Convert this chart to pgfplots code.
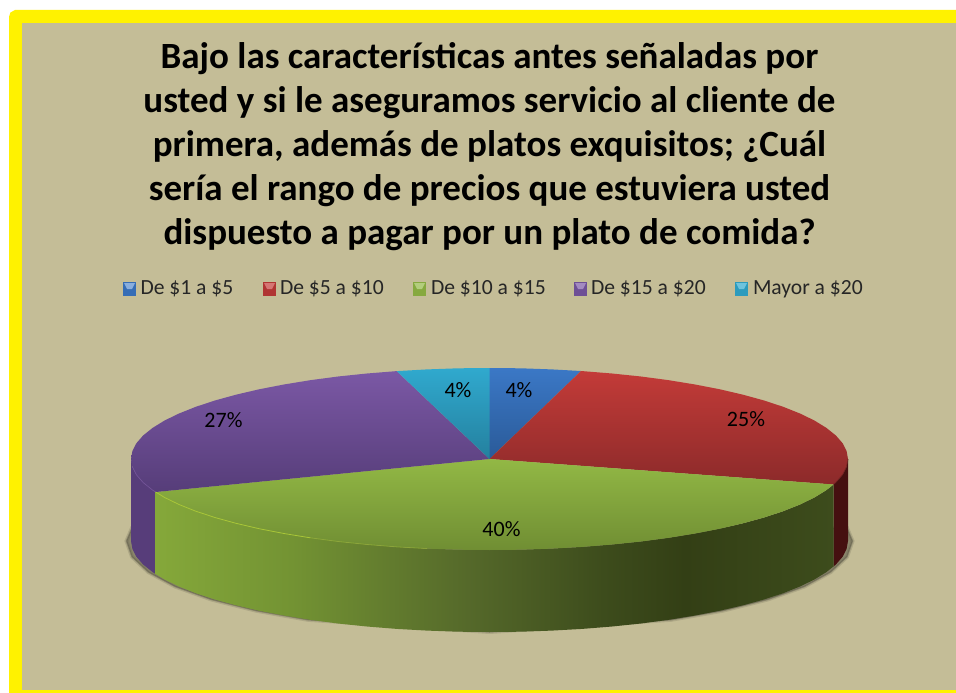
\documentclass[border=0pt]{standalone}
\usepackage{fontspec}
\setmainfont{Carlito}
\usepackage{pgfplots}
\pgfplotsset{compat=1.18}

\definecolor{fondo}{HTML}{C4BD97}
\definecolor{azulA}{HTML}{3B78C6}
\definecolor{azulB}{HTML}{2A5A98}
\definecolor{rojoA}{HTML}{C33B38}
\definecolor{rojoB}{HTML}{8C2A2A}
\definecolor{verdeA}{HTML}{92B845}
\definecolor{verdeB}{HTML}{708E33}
\definecolor{moradoA}{HTML}{7B58A5}
\definecolor{moradoB}{HTML}{563D79}
\definecolor{cianA}{HTML}{30A9CE}
\definecolor{cianB}{HTML}{24809E}
\definecolor{moradoLado}{HTML}{573D7A}
\definecolor{rojoLado}{HTML}{451010}
\definecolor{textoLey}{HTML}{262626}
\definecolor{vl1}{HTML}{85A83A}
\definecolor{vl2}{HTML}{739333}
\definecolor{vl3}{HTML}{55692A}
\definecolor{vl4}{HTML}{3D4C1C}
\definecolor{vl5}{HTML}{333F15}

% front wall of the 40% slice, light on the left and dark to the right
\pgfdeclarehorizontalshading{verdelado}{100bp}{color(0bp)=(vl1); color(25bp)=(vl1); color(35bp)=(vl2); color(48bp)=(vl3); color(58bp)=(vl4); color(64bp)=(vl5); color(75bp)=(vl4); color(100bp)=(vl4)}

\begin{document}
\begin{tikzpicture}
\begin{axis}[
    scale only axis,
    width=956pt,
    height=693pt,
    xmin=0, xmax=956,
    ymin=0, ymax=693,
    y dir=reverse,
    hide axis,
    clip=true,
]
% page and frame
\addplot[draw=none,fill=white] coordinates {(0,0) (956,0) (956,693) (0,693)} --cycle;
\addplot[draw=none,fill=yellow] coordinates {(9,693) (9,17) (10.5,12.5) (15,10) (956,10) (956,693)} --cycle;
\addplot[draw=none,fill=fondo] coordinates {(22,23) (956,23) (956,690) (22,690)} --cycle;

% shadow under the pie
\addplot[draw=black!55!fondo,fill=black!55!fondo,line width=4pt,opacity=0.2] coordinates {
    (132,528) (126.5,541) (132,556.8) (148.4,572.1) (175.1,586.5) (211.4,599.5) (256.2,610.7) (308,619.8)
    (489.5,632) (671,619.8) (722.8,610.7) (767.6,599.5) (804.4,586.5) (830.6,572.1) (847,556.8) (852.5,541) (847,528)
} --cycle;
\addplot[draw=black!55!fondo,fill=black!55!fondo,line width=1.5pt,opacity=0.4] coordinates {
    (132,528) (126.5,541) (132,556.8) (148.4,572.1) (175.1,586.5) (211.4,599.5) (256.2,610.7) (308,619.8)
    (489.5,632) (671,619.8) (722.8,610.7) (767.6,599.5) (804.4,586.5) (830.6,572.1) (847,556.8) (852.5,541) (847,528)
} --cycle;

% side walls
\addplot[draw=none,fill=moradoLado] coordinates {
    (131,459) (132.4,466.9) (136.4,474.8) (143.2,482.6) (152.6,490.1) (155.7,492)
    (155.7,574) (152.6,572.1) (143.2,564.6) (136.4,556.8) (132.4,548.9) (131,541)
} --cycle;
\addplot[draw=none,fill=rojoLado] coordinates {
    (848,459) (846.6,466.9) (842.6,474.8) (835.8,482.6) (833.5,484.5)
    (833.5,566.5) (835.8,564.6) (842.6,556.8) (846.6,548.9) (848,541)
} --cycle;
\addplot[draw=none,shade,shading=verdelado] coordinates {
    (155.7,492) (164.6,497.5) (179,504.5) (195.8,511.2) (214.9,517.5) (236,523.3) (259.1,528.7) (283.9,533.5)
    (310.2,537.8) (338,541.5) (366.9,544.5) (396.7,546.9) (427.2,548.6) (458.3,549.7) (489.5,550)
    (520.7,549.7) (551.8,548.6) (582.3,546.9) (612.1,544.5) (641,541.5) (668.8,537.8) (695.1,533.5)
    (719.9,528.7) (743,523.3) (764.1,517.5) (783.2,511.2) (800,504.5) (814.4,497.5) (826.4,490.1) (833.5,484.5)
    (833.5,566.5) (826.4,572.1) (814.4,579.5) (800,586.5) (783.2,593.2) (764.1,599.5) (743,605.3) (719.9,610.7)
    (695.1,615.5) (668.8,619.8) (641,623.5) (612.1,626.5) (582.3,628.9) (551.8,630.6) (520.7,631.7) (489.5,632)
    (458.3,631.7) (427.2,630.6) (396.7,628.9) (366.9,626.5) (338,623.5) (310.2,619.8) (283.9,615.5) (259.1,610.7)
    (236,605.3) (214.9,599.5) (195.8,593.2) (179,586.5) (164.6,579.5) (155.7,574)
} --cycle;

% top faces: De $1 a $5 4, De $5 a $10 25, De $10 a $15 40, De $15 a $20 27, Mayor a $20 4
\addplot[draw=none,top color=azulA,bottom color=azulB] coordinates {
    (489.5,459) (489.5,368) (520.7,368.3) (551.8,369.4) (581,371)
} --cycle;
\addplot[draw=none,top color=rojoA,bottom color=rojoB] coordinates {
    (489.5,459) (581,371) (612.1,373.5) (641,376.5) (668.8,380.2) (695.1,384.5) (719.9,389.3) (743,394.7)
    (764.1,400.5) (783.2,406.8) (800,413.5) (814.4,420.5) (826.4,427.9) (835.8,435.4) (842.6,443.2) (846.6,451.1)
    (848,459) (846.6,466.9) (842.6,474.8) (835.8,482.6) (833.5,484.5)
} --cycle;
\addplot[draw=none,top color=verdeA,bottom color=verdeB] coordinates {
    (489.5,459) (833.5,484.5) (826.4,490.1) (814.4,497.5) (800,504.5) (783.2,511.2) (764.1,517.5) (743,523.3)
    (719.9,528.7) (695.1,533.5) (668.8,537.8) (641,541.5) (612.1,544.5) (582.3,546.9) (551.8,548.6) (520.7,549.7)
    (489.5,550) (458.3,549.7) (427.2,548.6) (396.7,546.9) (366.9,544.5) (338,541.5) (310.2,537.8) (283.9,533.5)
    (259.1,528.7) (236,523.3) (214.9,517.5) (195.8,511.2) (179,504.5) (164.6,497.5) (155.7,492)
} --cycle;
\addplot[draw=none,top color=moradoA,bottom color=moradoB] coordinates {
    (489.5,459) (155.7,492) (152.6,490.1) (143.2,482.6) (136.4,474.8) (132.4,466.9) (131,459) (132.4,451.1)
    (136.4,443.2) (143.2,435.4) (152.6,427.9) (164.6,420.5) (179,413.5) (195.8,406.8) (214.9,400.5) (236,394.7)
    (259.1,389.3) (283.9,384.5) (310.2,380.2) (338,376.5) (366.9,373.5) (396.7,371.1)
} --cycle;
\addplot[draw=none,top color=cianA,bottom color=cianB] coordinates {
    (489.5,459) (396.7,371.1) (427.2,369.4) (458.3,368.3) (489.5,368)
} --cycle;

% light rim on the front edge, fading towards the middle
\addplot[color=verdeA!80!yellow,line width=0.8pt] coordinates {
    (155.7,492) (164.6,497.5) (179,504.5) (195.8,511.2) (214.9,517.5) (236,523.3) (259.1,528.7) (283.9,533.5) (310.2,537.8)
};
\addplot[color=verdeA!80!yellow,line width=0.8pt,opacity=0.45] coordinates {
    (310.2,537.8) (338,541.5) (366.9,544.5) (396.7,546.9) (427.2,548.6)
};
% rim of the purple and red slices at the sides
\addplot[color=moradoA,line width=0.8pt,opacity=0.6] coordinates {
    (132.4,466.9) (136.4,474.8) (143.2,482.6) (152.6,490.1) (155.7,492)
};
\addplot[color=rojoLado!60!rojoB,line width=0.8pt,opacity=0.7] coordinates {
    (848,459) (846.6,466.9) (842.6,474.8) (835.8,482.6) (833.5,484.5)
};

% legend keys
\addplot[draw=none,fill=azulA!65!azulB] coordinates {(123,282) (136,282) (136,296) (123,296)} --cycle;
\addplot[draw=none,fill=azulA!60!white] coordinates {(124,283) (135,283) (132,289) (127,289)} --cycle;
\addplot[draw=none,fill=rojoA!65!rojoB] coordinates {(263,282) (276,282) (276,296) (263,296)} --cycle;
\addplot[draw=none,fill=rojoA!70!white] coordinates {(264,283) (275,283) (272,289) (267,289)} --cycle;
\addplot[draw=none,fill=verdeA!65!verdeB] coordinates {(413,282) (426,282) (426,296) (413,296)} --cycle;
\addplot[draw=none,fill=verdeA!70!white] coordinates {(414,283) (425,283) (422,289) (417,289)} --cycle;
\addplot[draw=none,fill=moradoA!65!moradoB] coordinates {(574,282) (587,282) (587,296) (574,296)} --cycle;
\addplot[draw=none,fill=moradoA!70!white] coordinates {(575,283) (586,283) (583,289) (578,289)} --cycle;
\addplot[draw=none,fill=cianA!65!cianB] coordinates {(735,282) (748,282) (748,296) (735,296)} --cycle;
\addplot[draw=none,fill=cianA!70!white] coordinates {(736,283) (747,283) (744,289) (739,289)} --cycle;

\begin{scope}[every node/.style={inner sep=0pt,outer sep=0pt}]
\node[anchor=base,align=center,font=\fontsize{37}{44}\selectfont\bfseries] at (axis cs:489.5,244)
    {Bajo las características antes señaladas por\\
     usted y si le aseguramos servicio al cliente de\\
     primera, además de platos exquisitos; ¿Cuál\\
     sería el rango de precios que estuviera usted\\
     dispuesto a pagar por un plato de comida?};
\node[anchor=base west,text=textoLey,font=\fontsize{21.6}{24}\selectfont] at (axis cs:140.5,294.5) {De \$1 a \$5};
\node[anchor=base west,text=textoLey,font=\fontsize{21.6}{24}\selectfont] at (axis cs:280,294.5) {De \$5 a \$10};
\node[anchor=base west,text=textoLey,font=\fontsize{21.6}{24}\selectfont] at (axis cs:431,294.5) {De \$10 a \$15};
\node[anchor=base west,text=textoLey,font=\fontsize{21.6}{24}\selectfont] at (axis cs:591,294.5) {De \$15 a \$20};
\node[anchor=base west,text=textoLey,font=\fontsize{21.6}{24}\selectfont] at (axis cs:753,294.5) {Mayor a \$20};

\node[anchor=base,font=\fontsize{22}{24}\selectfont] at (axis cs:519,397) {4\%};
\node[anchor=base,font=\fontsize{22}{24}\selectfont] at (axis cs:458,397) {4\%};
\node[anchor=base,font=\fontsize{22}{24}\selectfont] at (axis cs:746,426) {25\%};
\node[anchor=base,font=\fontsize{22}{24}\selectfont] at (axis cs:223.5,427) {27\%};
\node[anchor=base,font=\fontsize{22}{24}\selectfont] at (axis cs:501.5,536) {40\%};
\end{scope}
\end{axis}
\end{tikzpicture}
\end{document}
